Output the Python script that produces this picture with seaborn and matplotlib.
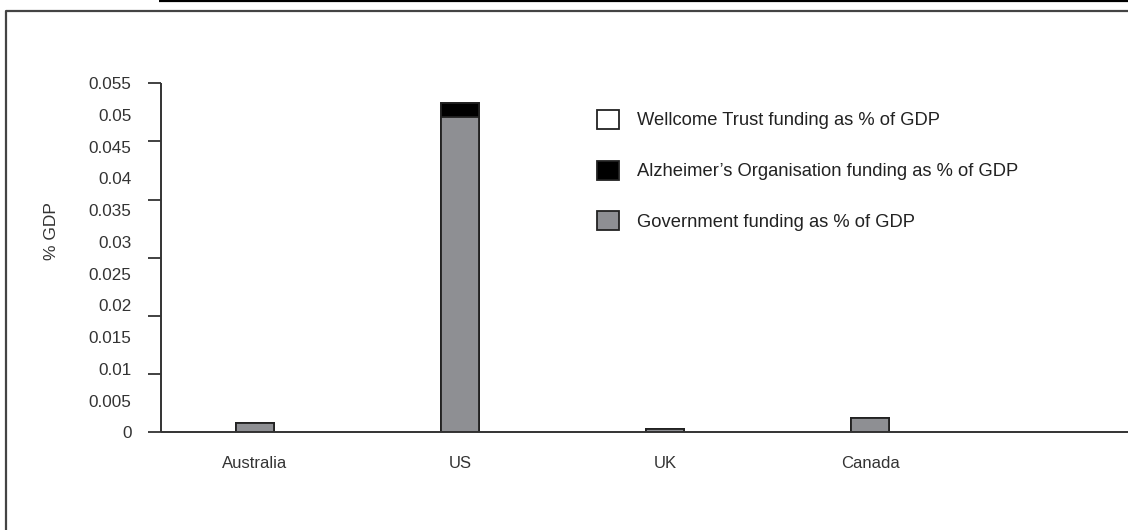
"""
Financement de la recherche sur la démence en % du PIB, par pays.
Barres empilées : gouvernement, organisation Alzheimer, Wellcome Trust.
"""

import matplotlib
matplotlib.use("Agg")
import matplotlib.pyplot as plt
from matplotlib.lines import Line2D
from matplotlib.patches import Patch
from matplotlib.ticker import FixedLocator
import numpy as np
import pandas as pd
import seaborn as sns

# --- données ---
pays = ["Australia", "US", "UK", "Canada"]
gouvernement = [0.0015, 0.0497, 0.0005, 0.0023]
alzheimer = [0.0, 0.0022, 0.0, 0.0]
wellcome = [0.0, 0.0, 0.0, 0.0]

graduations = [0, 0.005, 0.01, 0.015, 0.02, 0.025, 0.03, 0.035, 0.04, 0.045, 0.05, 0.055]
etiquettes_y = ["0", "0.005", "0.01", "0.015", "0.02", "0.025", "0.03", "0.035",
                "0.04", "0.045", "0.05", "0.055"]

legende = [
    "Wellcome Trust funding as % of GDP",
    "Alzheimer’s Organisation funding as % of GDP",
    "Government funding as % of GDP",
]

GRIS = "#8e8f93"
BORD = "#222222"
AXE = "#333333"

sns.set_style("white")
plt.rcParams["font.family"] = ["Liberation Sans", "DejaVu Sans"]

df = pd.DataFrame({"pays": pays, "gouv": gouvernement, "alz": alzheimer, "well": wellcome})
df["gouv_alz"] = df["gouv"] + df["alz"]
df["total"] = df["gouv_alz"] + df["well"]

W, H = 1129, 530
DROITE = (W - 1) / W  # bord droit, juste avant la limite de l'image
fig = plt.figure(figsize=(W / 100, H / 100), dpi=100)
ax = fig.add_axes([160.7 / W, (H - 432.3) / H, DROITE - 160.7 / W, 349 / H])

# empilement : on dessine le total, puis les couches inférieures par-dessus
for col, couleur in [("total", "white"), ("gouv_alz", "black"), ("gouv", GRIS)]:
    sns.barplot(data=df, x="pays", y=col, order=pays, color=couleur, saturation=1,
                errorbar=None, width=0.187, edgecolor=BORD, linewidth=1.3, ax=ax)

ax.set_xlim(-0.459, 4.257)
ax.set_ylim(0, 0.055)
sns.despine(ax=ax)
for cote in ["left", "bottom"]:
    ax.spines[cote].set_color(AXE)
    ax.spines[cote].set_linewidth(1.4)
    ax.spines[cote].set_capstyle("butt")

ax.set_xticks(range(len(pays)))
ax.set_xticklabels(pays, fontsize=12, color=AXE)
ax.tick_params(axis="x", length=0, pad=17)
ax.set_xlabel("")

ax.set_yticks(graduations)
ax.set_yticklabels(etiquettes_y, fontsize=12.3, color=AXE)
ax.tick_params(axis="y", which="major", left=True, length=0, pad=21)
ax.yaxis.set_minor_locator(FixedLocator(np.linspace(0, 0.055, 7)))
ax.yaxis.remove_overlapping_locs = False
ax.tick_params(axis="y", which="minor", left=True, direction="out", length=9.4,
               width=1.3, color=AXE)
ax.set_ylabel("% GDP", fontsize=12.5, color=AXE)
ax.yaxis.set_label_coords(-0.105, 0.577)

poignees = [
    Patch(facecolor="white", edgecolor=BORD, linewidth=1.3, label=legende[0]),
    Patch(facecolor="black", edgecolor=BORD, linewidth=1.3, label=legende[1]),
    Patch(facecolor=GRIS, edgecolor=BORD, linewidth=1.3, label=legende[2]),
]
ax.legend(handles=poignees, loc="upper left", bbox_to_anchor=(597 / W, 1 - 109.7 / H),
          bbox_transform=fig.transFigure, frameon=False, fontsize=13.2, borderpad=0,
          borderaxespad=0, handlelength=1.22, handleheight=1.22, handletextpad=0.94,
          labelspacing=1.7, labelcolor=BORD)

# cadre extérieur (gauche + haut) et trait du haut
fig.lines.append(Line2D([6 / W, 6 / W, DROITE], [0.0, 1 - 11 / H, 1 - 11 / H],
                        transform=fig.transFigure, color="#444444", linewidth=1.6,
                        solid_capstyle="butt"))
fig.lines.append(Line2D([159 / W, DROITE], [1 - 0.8 / H] * 2, transform=fig.transFigure,
                        color="black", linewidth=1.6, solid_capstyle="butt"))

fig.savefig("out.png", dpi=100)
plt.close(fig)
